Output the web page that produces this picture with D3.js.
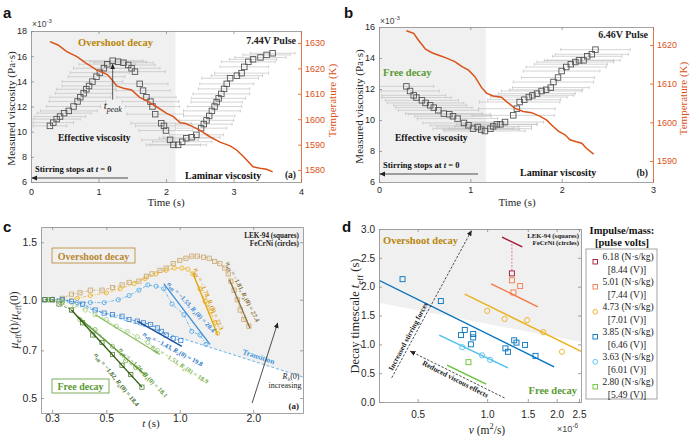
<!DOCTYPE html>
<html><head><meta charset="utf-8">
<script src="https://cdn.jsdelivr.net/npm/d3@7/dist/d3.min.js"></script>
<style>html,body{margin:0;padding:0;background:#fff}svg{display:block}</style>
</head><body>
<svg id="fig" width="691" height="436"></svg>
<script>
// ================= DATA =================
// Panel a (7.44 V pulse) — viscosity in units of 1e-3 Pa·s
const timeA = [0.28,0.33,0.38,0.43,0.49,0.56,0.63,0.69,0.73,0.78,0.82,0.86,0.91,0.97,1.02,1.08,1.13,1.21,1.29,1.37,1.44,1.49,1.54,1.61,1.66,1.71,1.77,1.80,1.84,1.93,1.97,2.00,2.06,2.11,2.18,2.24,2.30,2.38,2.45,2.52,2.56,2.60,2.64,2.68,2.72,2.75,2.78,2.82,2.86,2.90,2.95,3.05,3.12,3.16,3.22,3.29,3.40,3.49,3.58];
const viscA = [10.46,10.72,11.0,11.2,11.47,11.65,12.0,12.4,12.74,13.05,13.37,13.63,13.98,14.37,14.69,15.04,15.36,15.64,15.56,15.48,15.3,15.04,14.77,13.8,13.26,12.74,12.39,12.0,11.39,10.67,10.46,10.09,9.35,8.95,8.95,9.2,9.48,9.56,9.75,10.28,10.6,10.9,11.25,11.65,12.0,12.35,12.65,13.0,13.4,13.8,14.25,14.45,14.65,15.15,15.55,15.75,15.9,16.1,16.23];
const errA  = [0.25,0.3,0.35,0.38,0.4,0.42,0.4,0.42,0.45,0.42,0.44,0.4,0.45,0.42,0.44,0.45,0.42,0.45,0.42,0.44,0.4,0.42,0.45,0.42,0.4,0.44,0.42,0.4,0.42,0.45,0.42,0.4,0.42,0.4,0.42,0.44,0.4,0.42,0.4,0.38,0.42,0.4,0.38,0.42,0.4,0.38,0.4,0.42,0.38,0.4,0.42,0.38,0.4,0.36,0.4,0.35,0.38,0.35,0.33];
const tempTimeA = [0.28,0.40,0.53,0.68,0.82,0.97,1.07,1.14,1.22,1.27,1.37,1.49,1.61,1.71,1.86,2.01,2.11,2.21,2.28,2.38,2.50,2.65,2.80,2.95,3.05,3.15,3.29,3.39,3.49,3.58];
const tempA = [1630.5,1629.2,1626.6,1624.6,1622.0,1619.4,1618.3,1617.4,1614.8,1613.1,1612.2,1611.5,1608.6,1607.3,1604.9,1602.3,1601.0,1598.6,1598.4,1597.3,1595.7,1593.1,1591.0,1589.5,1587.8,1585.2,1581.3,1580.7,1580.3,1579.3];
const shadeEndA = 2.14;

// Panel b (6.46 V pulse)
const timeB = [0.30,0.34,0.38,0.41,0.47,0.51,0.56,0.60,0.65,0.71,0.77,0.81,0.86,0.93,0.98,1.03,1.08,1.12,1.16,1.22,1.25,1.29,1.33,1.38,1.47,1.51,1.54,1.59,1.64,1.68,1.73,1.78,1.83,1.88,1.91,1.96,2.00,2.05,2.10,2.15,2.19,2.24,2.28,2.33,2.37];
const viscB = [12.17,11.87,11.59,11.45,11.27,11.10,10.95,10.80,10.63,10.41,10.37,10.24,10.09,9.81,9.66,9.44,9.55,9.38,9.29,9.44,9.59,9.72,9.72,9.87,10.30,10.73,11.16,11.31,11.48,11.59,11.70,11.87,11.95,12.09,12.45,12.74,13.16,13.42,13.60,13.74,13.85,13.85,14.11,14.24,14.54];
const errB  = [0.3,0.32,0.35,0.38,0.4,0.42,0.4,0.42,0.44,0.42,0.45,0.42,0.44,0.45,0.42,0.44,0.45,0.42,0.44,0.45,0.42,0.44,0.4,0.42,0.45,0.42,0.44,0.4,0.42,0.45,0.42,0.44,0.4,0.42,0.44,0.4,0.42,0.44,0.4,0.42,0.38,0.4,0.38,0.4,0.38];
const tempTimeB = [0.30,0.38,0.43,0.51,0.58,0.67,0.74,0.83,0.91,0.98,1.05,1.12,1.18,1.25,1.34,1.40,1.49,1.58,1.67,1.76,1.84,1.89,1.96,2.04,2.09,2.16,2.22,2.27,2.35];
const tempB = [1623.7,1623.0,1621.3,1618.9,1618.0,1617.2,1616.6,1615.7,1614.4,1613.5,1611.8,1609.1,1607.5,1606.8,1606.5,1605.3,1603.6,1602.8,1602.5,1601.6,1600.5,1599.3,1597.8,1596.7,1595.5,1595.0,1594.6,1593.3,1591.8];
const shadeEndB = 1.17;

// Panel c — normalised effective viscosity vs t (s)
const cTanT = [0.28,0.30,0.33,0.36,0.39,0.43,0.48,0.53,0.58,0.62,0.68,0.73,0.77,0.83,0.88,0.94,1.00,1.06,1.12,1.18,1.25,1.32,1.39,1.46,1.53,1.58,1.62,1.67,1.72,1.77,1.83,1.92];
const cTanV = [1.00,1.00,1.01,1.04,1.05,1.07,1.07,1.09,1.11,1.13,1.14,1.18,1.20,1.23,1.25,1.29,1.32,1.34,1.36,1.36,1.35,1.34,1.31,1.29,1.25,1.20,1.14,1.07,1.00,0.93,0.87,0.83];
const cTanFit = [[1.60,1.15],[1.94,0.82]];
const cYelT = [0.29,0.33,0.38,0.43,0.50,0.57,0.65,0.72,0.80,0.88,0.95,1.02,1.08,1.13,1.21,1.27,1.34,1.39,1.43];
const cYelV = [1.00,1.00,1.01,1.03,1.05,1.08,1.12,1.16,1.20,1.23,1.25,1.25,1.24,1.20,1.08,0.99,0.92,0.85,0.79];
const cYelFit = [[1.13,1.21],[1.43,0.78]];
const cBluT = [0.29,0.33,0.38,0.43,0.49,0.56,0.62,0.68,0.74,0.80,0.86,0.93,1.04,1.12,1.21,1.28];
const cBluV = [1.00,1.00,0.98,0.98,0.98,1.00,1.03,1.07,1.11,1.10,1.08,0.97,0.90,0.80,0.78,0.73];
const cBluFit = [[0.86,1.12],[1.33,0.73]];
const cDbT = [0.28,0.30,0.33,0.36,0.40,0.45,0.49,0.53,0.58,0.62,0.67,0.71,0.76,0.81,0.84,0.88,0.94,1.01];
const cDbV = [1.00,1.00,1.00,0.99,0.97,0.93,0.91,0.90,0.89,0.87,0.86,0.85,0.84,0.82,0.80,0.78,0.76,0.75];
const cDbFit = [[0.67,0.86],[1.02,0.72]];
const cLgT = [0.29,0.33,0.37,0.41,0.45,0.50,0.55,0.61,0.67,0.74,0.81];
const cLgV = [1.00,0.99,0.96,0.93,0.90,0.87,0.83,0.80,0.77,0.74,0.70];
const cLgFit = [[0.45,0.90],[0.83,0.68]];
const cGrT = [0.29,0.33,0.36,0.39,0.45,0.53,0.60,0.66,0.72];
const cGrV = [1.00,0.98,0.93,0.87,0.81,0.72,0.65,0.62,0.59];
const cGrFit = [[0.38,0.89],[0.72,0.59]];
const cDgT = [0.28,0.30,0.32,0.36,0.40,0.44,0.48,0.53,0.58,0.63,0.70];
const cDgV = [1.00,1.00,0.97,0.93,0.85,0.78,0.74,0.68,0.63,0.59,0.54];
const cDgFit = [[0.36,0.93],[0.70,0.54]];
const cTransition = [[0.30,1.02],[3.2,0.58]];
const cNeff = ['−1.81','−1.78','−1.53','−1.43','−1.53','−1.76','−1.82'];
const cRlam = ['27.4','22.3','20.4','19.8','18.9','18.1','18.4'];

// Panel d — decay timescale vs kinematic viscosity (1e-6 m^2/s)
const legendImpulse = ['6.18','5.01','4.73','3.85','3.63','2.80'];
const legendVolts = ['8.44','7.44','7.01','6.46','6.01','5.49'];
const dNu = [[1.28],[1.28,1.39,1.30],[1.00,1.19,1.49,1.75,2.11],[0.43,0.63,0.77,0.80,0.87,0.87,0.85,1.31,1.34,1.20,1.23,1.46,1.62],[0.78,0.95,1.03],[0.83]];
const dTau = [[2.23],[2.11,2.01,1.90],[1.58,1.44,1.42,1.21,0.87],[2.13,1.75,1.16,1.25,1.18,1.12,1.00,1.07,1.03,0.93,0.87,0.99,0.80],[0.95,0.81,0.73],[0.69]];
const dFits = [[[1.16,2.86],[1.42,2.69]],[[1.04,2.05],[1.66,1.65]],[[0.80,1.87],[2.55,0.88]],[[0.34,2.11],[1.95,0.61]],[[0.62,1.16],[1.23,0.59]],[[0.67,0.64],[0.99,0.31]]];
const dShadeEdge = [[0.34,1.72],[2.55,1.04]];

// ================= STYLE =================
const SANS = "'Liberation Sans', Arial, Helvetica, sans-serif";
const SERIF = "'Liberation Serif', 'Times New Roman', Times, serif";
const AX = '#8c8c8c', TXT = '#262626', ORANGE = '#d95319', GOLD = '#b8860b', GREEN = '#5a9a34', SHADE = '#f0f0f0';

const svg = d3.select('#fig');
const defs = svg.append('defs');
function marker(id, color, size) {
  defs.append('marker').attr('id', id).attr('viewBox', '0 0 10 10').attr('refX', 9).attr('refY', 5)
    .attr('markerWidth', size).attr('markerHeight', size).attr('orient', 'auto-start-reverse')
    .append('path').attr('d', 'M0,0.5 L10,5 L0,9.5 z').attr('fill', color);
}
marker('arrK', '#222', 7);

function clip(id, x, y, w, h) {
  defs.append('clipPath').attr('id', id).append('rect').attr('x', x).attr('y', y).attr('width', w).attr('height', h);
}

function rich(g, x, y, parts, o = {}) {
  const fs = o.size || 10;
  const t = g.append('text').attr('x', x).attr('y', y)
    .attr('font-family', o.family || SERIF).attr('font-size', fs)
    .attr('font-weight', o.weight || 'normal').attr('fill', o.fill || TXT)
    .attr('text-anchor', o.anchor || 'start');
  if (o.rotate) t.attr('transform', `rotate(${o.rotate},${x},${y})`);
  let cur = 0;
  parts.forEach(p => {
    const [s, st = ''] = Array.isArray(p) ? p : [p];
    let off = 0, sz = fs;
    if (st.includes('sub')) { off = fs * 0.28; sz = fs * 0.72; }
    if (st.includes('sup')) { off = -fs * 0.42; sz = fs * 0.72; }
    const ts = t.append('tspan').attr('dy', off - cur).attr('font-size', sz).text(s);
    if (st.includes('it')) ts.attr('font-style', 'italic');
    cur = off;
  });
  return t;
}

function styleAxis(sel, col, fs, tcol) {
  sel.attr('font-family', null).attr('font-size', null);
  sel.select('.domain').attr('stroke', col).attr('stroke-width', 0.8);
  sel.selectAll('.tick line').attr('stroke', col).attr('stroke-width', 0.8);
  sel.selectAll('text').attr('font-family', SANS).attr('font-size', fs).attr('fill', tcol);
}

function frame(g, x, y, o) {
  const [xl, xr] = x.range(), [yb, yt] = y.range();
  const fs = o.fs || 9;
  const b = g.append('g').attr('transform', `translate(0,${yb})`)
    .call(d3.axisBottom(x).tickValues(o.xTicks).tickFormat(o.xFmt).tickSizeInner(-3).tickSizeOuter(0).tickPadding(o.xPad));
  styleAxis(b, AX, fs, TXT);
  const t = g.append('g').attr('transform', `translate(0,${yt})`)
    .call(d3.axisTop(x).tickValues(o.xTicks).tickFormat('').tickSizeInner(-3).tickSizeOuter(0));
  styleAxis(t, AX, fs, TXT);
  const l = g.append('g').attr('transform', `translate(${xl},0)`)
    .call(d3.axisLeft(y).tickValues(o.yTicks).tickFormat(o.yFmt).tickSizeInner(-3).tickSizeOuter(0).tickPadding(o.yPad));
  styleAxis(l, AX, fs, TXT);
  if (o.yR) {
    const r = g.append('g').attr('transform', `translate(${xr},0)`)
      .call(d3.axisRight(o.yR).tickValues(o.yRTicks).tickFormat(d3.format('d')).tickSizeInner(-3).tickSizeOuter(0).tickPadding(o.yRPad));
    styleAxis(r, ORANGE, fs, ORANGE);
  } else {
    const r = g.append('g').attr('transform', `translate(${xr},0)`)
      .call(d3.axisRight(y).tickValues(o.yTicks).tickFormat('').tickSizeInner(-3).tickSizeOuter(0));
    styleAxis(r, AX, fs, TXT);
  }
}

function errorBars(g, x, y, ts, vs, es, col) {
  ts.forEach((t, i) => {
    const yy = y(vs[i]), x0 = x(t - es[i]), x1 = x(t + es[i]);
    g.append('line').attr('x1', x0).attr('x2', x1).attr('y1', yy).attr('y2', yy).attr('stroke', col).attr('stroke-width', 0.7);
    [x0, x1].forEach(xx => g.append('line').attr('x1', xx).attr('x2', xx).attr('y1', yy - 1.6).attr('y2', yy + 1.6).attr('stroke', col).attr('stroke-width', 0.7));
  });
}
function squares(g, x, y, ts, vs, size, col, sw) {
  g.selectAll(null).data(ts.map((t, i) => [t, vs[i]])).join('rect')
    .attr('x', d => x(d[0]) - size / 2).attr('y', d => y(d[1]) - size / 2)
    .attr('width', size).attr('height', size).attr('fill', 'none').attr('stroke', col).attr('stroke-width', sw);
}
function circles(g, x, y, ts, vs, r, col, sw) {
  g.selectAll(null).data(ts.map((t, i) => [t, vs[i]])).join('circle')
    .attr('cx', d => x(d[0])).attr('cy', d => y(d[1])).attr('r', r)
    .attr('fill', 'none').attr('stroke', col).attr('stroke-width', sw);
}

// ================= PANEL A / B =================
function viscPanel(P) {
  const g = svg.append('g');
  const { x, y, yT } = P;
  const [xl, xr] = x.range(), [yb, yt] = y.range();
  clip(P.id, xl, yt, xr - xl, yb - yt);
  g.append('rect').attr('x', x(0)).attr('y', yt).attr('width', x(P.shadeEnd) - x(0)).attr('height', yb - yt).attr('fill', SHADE);
  const inner = g.append('g').attr('clip-path', `url(#${P.id})`);
  errorBars(inner, x, y, P.t, P.v, P.e, '#c2c2c2');
  squares(inner, x, y, P.t, P.v, 5.5, '#555', 0.9);
  inner.append('path').datum(P.tt.map((t, i) => [t, P.temp[i]]))
    .attr('d', d3.line().x(d => x(d[0])).y(d => yT(d[1])))
    .attr('fill', 'none').attr('stroke', ORANGE).attr('stroke-width', 1.5);
  frame(g, x, y, { xTicks: P.xTicks, xFmt: d3.format('d'), xPad: P.xPad, yTicks: P.yTicks, yFmt: d3.format('d'), yPad: 4,
    yR: yT, yRTicks: P.yRTicks, yRPad: 4, fs: 9 });
  rich(g, xl + 1, P.expY, ['×10', ['-3', 'sup']], { family: SANS, size: 8.5, fill: '#444' });
  rich(g, P.ylabX, (yb + yt) / 2 + 2, ['Measured viscosity (Pa·s)'], { size: 11, anchor: 'middle', rotate: -90 });
  rich(g, P.yRlabX, (yb + yt) / 2 - 6, ['Temperature (K)'], { size: 11, anchor: 'middle', rotate: -90, fill: ORANGE });
  rich(g, (xl + xr) / 2 + P.tOff, 206, ['Time (s)'], { size: 11, anchor: 'middle' });
  rich(g, xr - 5, P.pulseY, [P.pulse], { size: 10, weight: 'bold', anchor: 'end', fill: '#222' });
  rich(g, xr - 5, P.tagY, [P.tag], { size: 9.5, weight: 'bold', anchor: 'end', fill: '#222' });
  rich(g, P.decayX, P.decayY, [P.decay], { size: 10.5, weight: 'bold', fill: P.decayCol });
  rich(g, P.effX, 141, ['Effective viscosity'], { size: 9.5, weight: 'bold', fill: '#111' });
  rich(g, P.lamX, P.lamY, ['Laminar viscosity'], { size: 10, weight: 'bold', fill: '#111' });
  rich(g, xl + 4, P.stirY, ['Stirring stops at ', ['t', 'it'], ' = 0'], { size: 8.5, weight: 'bold', fill: '#111' });
  g.append('line').attr('x1', P.stirEnd).attr('x2', xl + 1).attr('y1', P.stirY + 6).attr('y2', P.stirY + 6)
    .attr('stroke', '#222').attr('stroke-width', 0.8).attr('marker-end', 'url(#arrK)');
  svg.append('text').attr('x', P.letterX).attr('y', 18).attr('font-family', SANS).attr('font-weight', 'bold').attr('font-size', 15).attr('fill', '#111').text(P.letter);
  return g;
}

const xA = d3.scaleLinear().domain([0, 4]).range([31, 301]);
const yA = d3.scaleLinear().domain([6, 18]).range([182, 31]);
const yAT = d3.scaleLinear().domain([1575.3, 1634.7]).range([182, 31]);
const gA = viscPanel({ id: 'clipA', x: xA, y: yA, yT: yAT, t: timeA, v: viscA, e: errA, tt: tempTimeA, temp: tempA, shadeEnd: shadeEndA,
  xTicks: [0, 1, 2, 3, 4], yTicks: [6, 8, 10, 12, 14, 16, 18], yRTicks: [1580, 1590, 1600, 1610, 1620, 1630], xPad: 7,
  expY: 27, ylabX: 15, yRlabX: 336, tOff: 0, pulse: '7.44V Pulse', pulseY: 44, tag: '(a)', tagY: 178,
  decay: 'Overshoot decay', decayX: 78, decayY: 46, decayCol: GOLD, effX: 58, lamX: 185, lamY: 179, stirY: 172, stirEnd: 128,
  letter: 'a', letterX: 3 });
// t_peak annotation
gA.append('line').attr('x1', xA(1.21)).attr('x2', xA(1.21)).attr('y1', yA(12.55)).attr('y2', yA(15.35))
  .attr('stroke', '#333').attr('stroke-width', 0.8).attr('marker-end', 'url(#arrK)');
rich(gA, xA(1.21) - 9, 109, [['t', 'it'], ['peak', 'sub it']], { size: 11, fill: '#222' });

const xB = d3.scaleLinear().domain([0, 3]).range([379, 653]);
const yB = d3.scaleLinear().domain([6, 16]).range([182, 27]);
const yBT = d3.scaleLinear().domain([1584.57, 1624.65]).range([182, 27]);
viscPanel({ id: 'clipB', x: xB, y: yB, yT: yBT, t: timeB, v: viscB, e: errB, tt: tempTimeB, temp: tempB, shadeEnd: shadeEndB,
  xTicks: [0, 1, 2, 3], yTicks: [6, 8, 10, 12, 14, 16], yRTicks: [1590, 1600, 1610, 1620], xPad: 5,
  expY: 24, ylabX: 363, yRlabX: 687, tOff: 1, pulse: '6.46V Pulse', pulseY: 38, tag: '(b)', tagY: 176,
  decay: 'Free decay', decayX: 383, decayY: 76, decayCol: GREEN, effX: 395, lamX: 520, lamY: 176, stirY: 168, stirEnd: 478,
  letter: 'b', letterX: 344 });

// ================= PANEL C =================
const gC = svg.append('g');
const xC = d3.scaleLog().domain([0.27, 3.2]).range([41, 303]);
const yC = d3.scaleLog().domain([0.45, 1.67]).range([413, 227]);
clip('clipC', 41, 227, 262, 186);
gC.append('path').datum([[0.27, 1.67], [3.2, 1.67], cTransition[1], cTransition[0], [0.27, cTransition[0][1]]])
  .attr('d', d3.line().x(d => xC(d[0])).y(d => yC(d[1]))).attr('fill', SHADE);
const inC = gC.append('g').attr('clip-path', 'url(#clipC)');
inC.append('path').datum(cTransition).attr('d', d3.line().x(d => xC(d[0])).y(d => yC(d[1])))
  .attr('stroke', '#5aaee8').attr('stroke-width', 0.9).attr('stroke-dasharray', '3 2').attr('fill', 'none');

const cSeries = [
  { t: cTanT, v: cTanV, fit: cTanFit, shape: 'sq', col: '#c9a66c', fitCol: '#8d7035', lab: '#8d7035', pos: [1.78, 1.05], ang: 63 },
  { t: cYelT, v: cYelV, fit: cYelFit, shape: 'ci', col: '#edb120', fitCol: '#e3a20a', lab: '#d99a0a', pos: [1.29, 1.0], ang: 67 },
  { t: cBluT, v: cBluV, fit: cBluFit, shape: 'ci', col: '#4ea6e6', fitCol: '#3b8fd8', lab: '#2f86d4', pos: [1.10, 0.94], ang: 47 },
  { t: cDbT, v: cDbV, fit: cDbFit, shape: 'sq', col: '#3a86d4', fitCol: '#1b4f96', lab: '#2a72c4', pos: [0.93, 0.697], ang: 28 },
  { t: cLgT, v: cLgV, fit: cLgFit, shape: 'ci', col: '#a6cf88', fitCol: '#8cc063', lab: '#7bb24a', pos: [0.99, 0.627], ang: 33 },
  { t: cGrT, v: cGrV, fit: cGrFit, shape: 'ci', col: '#7fb356', fitCol: '#5a9632', lab: '#5a9632', pos: [0.70, 0.592], ang: 46 },
  { t: cDgT, v: cDgV, fit: cDgFit, shape: 'sq', col: '#557f36', fitCol: '#2f5e12', lab: '#3d6b1f', pos: [0.543, 0.564], ang: 51 }
];
const lineC = d3.line().x(d => xC(d[0])).y(d => yC(d[1]));
cSeries.forEach((s, i) => {
  const pts = s.t.map((t, j) => [t, s.v[j]]);
  inC.append('path').datum(pts).attr('d', lineC).attr('fill', 'none').attr('stroke', s.col).attr('stroke-width', 0.8).attr('stroke-dasharray', '3 1.5 1 1.5');
  if (s.shape === 'sq') squares(inC, xC, yC, s.t, s.v, 4.2, s.col, 0.8);
  else circles(inC, xC, yC, s.t, s.v, 2.1, s.col, 0.8);
  inC.append('path').datum(s.fit).attr('d', lineC).attr('fill', 'none').attr('stroke', s.fitCol).attr('stroke-width', 1.3);
  rich(gC, xC(s.pos[0]), yC(s.pos[1]), [['n', 'it'], ['eff', 'sub'], [` = ${cNeff[i]}, `], ['R', 'it'], ['λ', 'sub'], [`(0) = ${cRlam[i]}`]],
    { size: 6.5, weight: 'bold', fill: s.lab, anchor: 'middle', rotate: s.ang });
});
frame(gC, xC, yC, { xTicks: [0.3, 0.5, 1.0, 2.0], xFmt: d3.format('.1f'), xPad: 1.5, yTicks: [0.5, 0.7, 1.0, 1.5], yFmt: d3.format('.1f'), yPad: 4, fs: 10.5 });
// annotations c
gC.append('rect').attr('x', 52).attr('y', 248).attr('width', 83).attr('height', 15).attr('fill', 'none').attr('stroke', '#b8862e').attr('stroke-width', 0.8);
rich(gC, 93.5, 259.5, ['Overshoot decay'], { size: 10, weight: 'bold', fill: '#b8862e', anchor: 'middle' });
gC.append('rect').attr('x', 52).attr('y', 379).attr('width', 57).attr('height', 14).attr('fill', 'none').attr('stroke', GREEN).attr('stroke-width', 0.8);
rich(gC, 80.5, 390, ['Free decay'], { size: 10, weight: 'bold', fill: GREEN, anchor: 'middle' });
rich(gC, 299, 238, ['LEK-94 (squares)'], { size: 7.2, weight: 'bold', fill: '#222', anchor: 'end' });
rich(gC, 299, 245.5, ['FeCrNi  (circles)'], { size: 7.2, weight: 'bold', fill: '#222', anchor: 'end' });
rich(gC, 299, 409, ['(a)'], { size: 9, weight: 'bold', fill: '#222', anchor: 'end' });
rich(gC, xC(2.09), yC(0.658), ['Transition'], { size: 7.5, weight: 'bold', fill: '#3a96dc', anchor: 'middle', rotate: 18 });
gC.append('line').attr('x1', xC(1.98)).attr('y1', yC(0.483)).attr('x2', xC(2.52)).attr('y2', yC(0.849))
  .attr('stroke', '#222').attr('stroke-width', 0.8).attr('marker-end', 'url(#arrK)');
rich(gC, 291, 379, [['R', 'it'], ['λ', 'sub'], ['(0)']], { size: 8, fill: '#222', anchor: 'middle' });
rich(gC, 285, 388, ['increasing'], { size: 8, fill: '#222', anchor: 'middle' });
rich(gC, 18, 320, [['μ', 'it'], ['eff', 'sub'], ['(t)/'], ['μ', 'it'], ['eff', 'sub'], ['(0)']], { size: 11.5, anchor: 'middle', rotate: -90 });
rich(gC, 151, 427, [['t', 'it'], ' (s)'], { size: 11, anchor: 'middle' });
svg.append('text').attr('x', 3).attr('y', 232).attr('font-family', SANS).attr('font-weight', 'bold').attr('font-size', 15).attr('fill', '#111').text('c');

// ================= PANEL D =================
const gD = svg.append('g');
const xD = d3.scaleLog().domain([0.34, 2.55]).range([379, 581]);
const yD = d3.scaleLinear().domain([0, 3]).range([402, 229]);
clip('clipD', 379, 229, 202, 173);
const lineD = d3.line().x(d => xD(d[0])).y(d => yD(d[1]));
gD.append('path').datum([[0.34, 3], [2.55, 3], dShadeEdge[1], dShadeEdge[0]]).attr('d', lineD).attr('fill', SHADE);
const dCols = ['#a2142f', '#f47a4a', '#edb120', '#0072bd', '#4dbeee', '#66c232'];
const dShapes = ['sq', 'sq', 'ci', 'sq', 'ci', 'sq'];
const inD = gD.append('g').attr('clip-path', 'url(#clipD)');
inD.append('path').datum([[dNu[0][0], dTau[0][0] + 0.05], [dNu[0][0], 2.76]]).attr('d', lineD)
  .attr('stroke', '#e07a9a').attr('stroke-width', 1).attr('stroke-dasharray', '2 1.5').attr('fill', 'none');
dFits.forEach((f, i) => inD.append('path').datum(f).attr('d', lineD).attr('fill', 'none').attr('stroke', dCols[i]).attr('stroke-width', 1.4));
dNu.forEach((nu, i) => {
  if (dShapes[i] === 'sq') squares(inD, xD, yD, nu, dTau[i], 5, dCols[i], 0.9);
  else circles(inD, xD, yD, nu, dTau[i], 2.6, dCols[i], 0.9);
});
gD.append('path').datum([[0.386, 0.42], [0.855, 2.97]]).attr('d', lineD).attr('stroke', '#222').attr('stroke-width', 0.8)
  .attr('stroke-dasharray', '2.5 1.5').attr('fill', 'none').attr('marker-end', 'url(#arrK)');
gD.append('path').datum([[1.19, 0.07], [0.465, 0.88]]).attr('d', lineD).attr('stroke', '#222').attr('stroke-width', 0.8)
  .attr('stroke-dasharray', '2.5 1.5').attr('fill', 'none').attr('marker-end', 'url(#arrK)');
rich(gD, xD(0.465), yD(1.12), ['Increased stirring forces'], { size: 7.3, weight: 'bold', fill: '#222', anchor: 'middle', rotate: -62 });
rich(gD, xD(0.72), yD(0.36), ['Reduced viscous effects'], { size: 7.3, weight: 'bold', fill: '#222', anchor: 'middle', rotate: 27 });
frame(gD, xD, yD, { xTicks: [0.5, 1.0, 1.5, 2.0, 2.5], xFmt: d3.format('.1f'), xPad: 9, yTicks: [0, 0.5, 1, 1.5, 2, 2.5, 3], yFmt: d3.format('.1f'), yPad: 4, fs: 10 });
rich(gD, 383, 244, ['Overshoot decay'], { size: 10.5, weight: 'bold', fill: GOLD });
rich(gD, 577, 394, ['Free decay'], { size: 10.5, weight: 'bold', fill: GREEN, anchor: 'end' });
rich(gD, 579, 238, ['LEK-94 (squares)'], { size: 6.8, weight: 'bold', fill: '#222', anchor: 'end' });
rich(gD, 579, 245, ['FeCrNi  (circles)'], { size: 6.8, weight: 'bold', fill: '#222', anchor: 'end' });
rich(gD, 359, 316, ['Decay timescale ', ['t', 'it'], ['eff', 'sub'], ' (s)'], { size: 12.5, anchor: 'middle', rotate: -90 });
rich(gD, 487, 434, [['ν', 'it'], ' (m', ['2', 'sup'], '/s)'], { size: 11.5, anchor: 'middle' });
rich(gD, 557, 432, ['×10', ['-6', 'sup']], { family: SANS, size: 9, fill: '#444' });
svg.append('text').attr('x', 342).attr('y', 232).attr('font-family', SANS).attr('font-weight', 'bold').attr('font-size', 15).attr('fill', '#111').text('d');

// legend
const gL = svg.append('g');
rich(gL, 622, 234, ['Impulse/mass:'], { size: 10.5, weight: 'bold', fill: '#111', anchor: 'middle' });
rich(gL, 622, 246, ['[pulse volts]'], { size: 10.5, weight: 'bold', fill: '#111', anchor: 'middle' });
gL.append('rect').attr('x', 586).attr('y', 249).attr('width', 71).attr('height', 150).attr('fill', '#fff').attr('stroke', '#9a9a9a').attr('stroke-width', 0.9);
legendImpulse.forEach((imp, i) => {
  const y0 = 260 + i * 25;
  if (dShapes[i] === 'sq') gL.append('rect').attr('x', 593).attr('y', y0 - 0.5).attr('width', 4.5).attr('height', 4.5).attr('fill', 'none').attr('stroke', dCols[i]).attr('stroke-width', 0.9);
  else gL.append('circle').attr('cx', 595.2).attr('cy', y0 + 1.8).attr('r', 2.4).attr('fill', 'none').attr('stroke', dCols[i]).attr('stroke-width', 0.9);
  rich(gL, 628, y0, [`${imp} (N·s/kg)`], { size: 9.5, fill: '#222', anchor: 'middle' });
  rich(gL, 627, y0 + 12.5, [`[${legendVolts[i]} (V)]`], { size: 9.5, fill: '#222', anchor: 'middle' });
});
</script>
</body></html>
